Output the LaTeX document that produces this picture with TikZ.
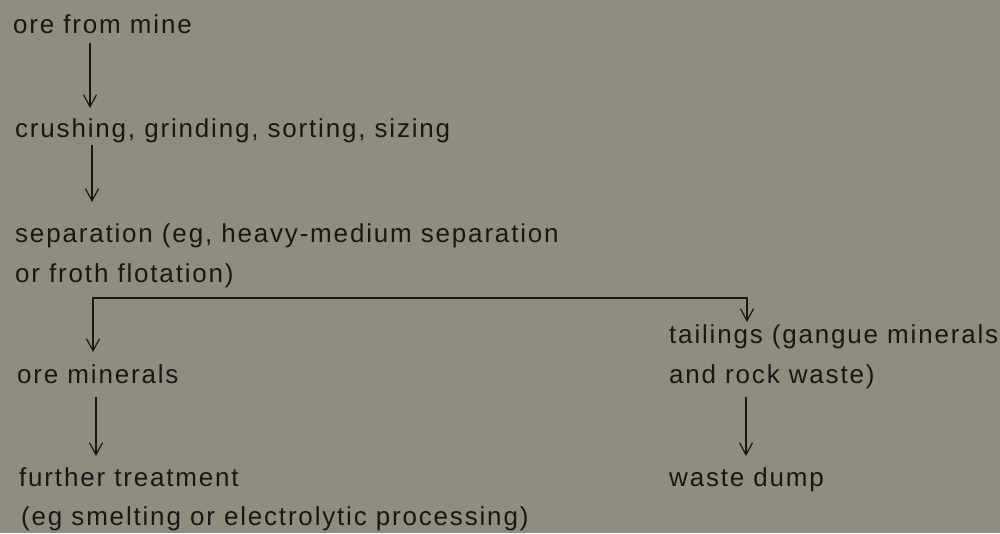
\documentclass[tikz,border=0pt]{standalone}
\usepackage{fontspec}
\setmainfont{Liberation Sans}[LetterSpace=7]
\usetikzlibrary{arrows.meta}
\definecolor{bg}{RGB}{145,141,126}
\definecolor{ink}{RGB}{24,23,20}
\begin{document}
\begin{tikzpicture}[x=1pt,y=-1pt,
  lbl/.style={anchor=base west,inner sep=0pt,text=ink,font=\fontsize{26}{30}\selectfont},
  arr/.style={draw=ink,line width=1.2pt,-{Straight Barb[length=12pt,width=13pt]}}]
\fill[bg] (0,0) rectangle (1000,533);
\useasboundingbox (0,0) rectangle (1000,533);
% texts
\node[lbl] (ore)     at (13,33)  {ore from mine};
\node[lbl] (crush)   at (15,137) {crushing, grinding, sorting, sizing};
\node[lbl] (sep1)    at (15,242) {separation (eg, heavy-medium separation};
\node[lbl] (sep2)    at (15,282) {or froth flotation)};
\node[lbl] (oremin)  at (17,383) {ore minerals};
\node[lbl] (further) at (19,486) {further treatment};
\node[lbl] (eg)      at (21,525) {(eg smelting or electrolytic processing)};
\node[lbl] (tail1)   at (669,343) {tailings (gangue minerals};
\node[lbl] (tail2)   at (669,383) {and rock waste)};
\node[lbl] (waste)   at (669,486) {waste dump};
% columns
\coordinate (xA) at (90,0);
\coordinate (xB) at (92,0);
\coordinate (xL) at (93,0);
\coordinate (xR) at (747,0);
\coordinate (xC) at (96,0);
\coordinate (xD) at (746,0);
% arrow ends
\coordinate (p1) at ([yshift=-10pt]ore.base);
\coordinate (q1) at ([yshift=29pt]crush.base);
\coordinate (p2) at ([yshift=-8pt]crush.base);
\coordinate (q2) at ([yshift=40pt]sep1.base);
\coordinate (b0) at ([yshift=-16pt]sep2.base);
\coordinate (qL) at ([yshift=31pt]oremin.base);
\coordinate (qR) at ([yshift=21pt]tail1.base);
\coordinate (p4) at ([yshift=-14pt]oremin.base);
\coordinate (q4) at ([yshift=30pt]further.base);
\coordinate (p5) at ([yshift=-14pt]tail2.base);
\coordinate (q5) at ([yshift=30pt]waste.base);
% connectors
\draw[arr] (p1 -| xA) -- (q1 -| xA);
\draw[arr] (p2 -| xB) -- (q2 -| xB);
\draw[arr] (b0 -| xR) -- (b0 -| xL) -- (qL -| xL);
\draw[arr] (b0 -| xL) -- (b0 -| xR) -- (qR -| xR);
\draw[arr] (p4 -| xC) -- (q4 -| xC);
\draw[arr] (p5 -| xD) -- (q5 -| xD);
\end{tikzpicture}
\end{document}
